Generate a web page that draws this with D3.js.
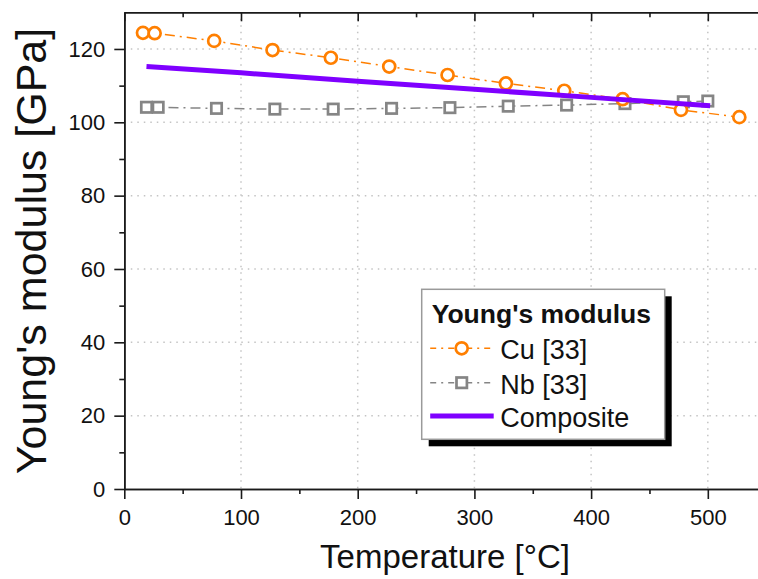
<header>
	<script src="https://d3js.org/d3.v7.min.js"></script>
</header>
<style>
	body {
		margin: 0;
		background: white;
	}
	text {
		font-family: "Liberation Sans", Arial, sans-serif;
		fill: #111;
	}
</style>

<script>

// Young's modulus vs temperature
const cuTemp = [16, 26, 77, 127, 177, 227, 277, 327, 377, 427, 477, 527];
const cuModulus = [124.4, 124.3, 122.2, 119.7, 117.6, 115.2, 112.9, 110.6, 108.6, 106.3, 103.4, 101.4];

const nbTemp = [19, 29, 79, 129, 179, 229, 279, 329, 379, 429, 479, 500];
const nbModulus = [104.1, 104.1, 103.8, 103.6, 103.6, 103.8, 104.0, 104.4, 104.7, 105.1, 105.6, 105.8];

const compTemp = [19, 100, 200, 300, 400, 502];
const compModulus = [115.2, 113.5, 111.2, 109.0, 106.8, 104.5];

const xTicks = [0, 100, 200, 300, 400, 500];
const xMinor = [50, 150, 250, 350, 450];
const yTicks = [0, 20, 40, 60, 80, 100, 120];
const yMinor = [10, 30, 50, 70, 90, 110];

const legendTitle = "Young's modulus";
const legendNames = ["Cu [33]", "Nb [33]", "Composite"];

const width = 758, height = 579;
const cuColor = "#ff7f00", nbColor = "#858585", compColor = "#7f00ff";
const dashDot = "10 5 2 5";

var xScale = d3.scaleLinear().domain([0, 543]).range([124.3, 758]);
var yScale = d3.scaleLinear().domain([0, 130]).range([489, 12.3]);

var svg = d3.select("body")
	.append("svg")
	.attr("width", width)
	.attr("height", height);

svg.append("rect")
	.attr("width", width)
	.attr("height", height)
	.attr("fill", "white");

// dotted grid
var grid = svg.append("g")
	.attr("stroke", "#c4c4c4")
	.attr("stroke-width", 1.5)
	.attr("stroke-dasharray", "1.5 5");

grid.selectAll(".vgrid")
	.data(xTicks.slice(1))
	.enter()
	.append("line")
	.attr("x1", d => xScale(d))
	.attr("x2", d => xScale(d))
	.attr("y1", yScale(130))
	.attr("y2", yScale(0));

grid.selectAll(".hgrid")
	.data(yTicks.slice(1))
	.enter()
	.append("line")
	.attr("x1", xScale(0))
	.attr("x2", width)
	.attr("y1", d => yScale(d))
	.attr("y2", d => yScale(d));

// axes
function styleAxis(g) {
	g.selectAll("path, line")
		.attr("stroke", "#1a1a1a")
		.attr("stroke-width", 1.6);
	g.selectAll("text")
		.style("font-size", "22px")
		.attr("fill", "#111");
}

svg.append("g")
	.attr("transform", "translate(0," + yScale(0) + ")")
	.call(d3.axisBottom(xScale).tickValues(xTicks).tickSize(10).tickSizeOuter(0).tickPadding(10))
	.call(styleAxis);

svg.append("g")
	.attr("transform", "translate(0," + yScale(0) + ")")
	.call(d3.axisBottom(xScale).tickValues(xMinor).tickSize(5).tickSizeOuter(0).tickFormat(""))
	.call(styleAxis);

svg.append("g")
	.attr("transform", "translate(0," + yScale(130) + ")")
	.call(d3.axisTop(xScale).tickValues(xTicks).tickSize(-9).tickSizeOuter(0).tickFormat(""))
	.call(styleAxis);

svg.append("g")
	.attr("transform", "translate(0," + yScale(130) + ")")
	.call(d3.axisTop(xScale).tickValues(xMinor).tickSize(-5).tickSizeOuter(0).tickFormat(""))
	.call(styleAxis);

svg.append("g")
	.attr("transform", "translate(" + xScale(0) + ",0)")
	.call(d3.axisLeft(yScale).tickValues(yTicks).tickSize(10).tickSizeOuter(0).tickPadding(9))
	.call(styleAxis);

svg.append("g")
	.attr("transform", "translate(" + xScale(0) + ",0)")
	.call(d3.axisLeft(yScale).tickValues(yMinor).tickSize(5).tickSizeOuter(0).tickFormat(""))
	.call(styleAxis);

// axis titles
svg.append("text")
	.attr("x", 445)
	.attr("y", 568)
	.attr("text-anchor", "middle")
	.style("font-size", "33px")
	.text("Temperature [\u00B0C]");

svg.append("text")
	.attr("transform", "translate(46,251) rotate(-90)")
	.attr("text-anchor", "middle")
	.style("font-size", "43px")
	.text("Young's modulus [GPa]");

// series
var line = d3.line()
	.x(d => xScale(d[0]))
	.y(d => yScale(d[1]));

var cuData = cuTemp.map((t, i) => [t, cuModulus[i]]);
var nbData = nbTemp.map((t, i) => [t, nbModulus[i]]);
var compData = compTemp.map((t, i) => [t, compModulus[i]]);

svg.append("path")
	.datum(nbData)
	.attr("d", line)
	.attr("fill", "none")
	.attr("stroke", nbColor)
	.attr("stroke-width", 1.5)
	.attr("stroke-dasharray", dashDot);

svg.selectAll(".nb")
	.data(nbData)
	.enter()
	.append("rect")
	.attr("class", "nb")
	.attr("x", d => xScale(d[0]) - 5.2)
	.attr("y", d => yScale(d[1]) - 5.2)
	.attr("width", 10.4)
	.attr("height", 10.4)
	.attr("fill", "white")
	.attr("stroke", nbColor)
	.attr("stroke-width", 2.7);

svg.append("path")
	.datum(cuData)
	.attr("d", line)
	.attr("fill", "none")
	.attr("stroke", cuColor)
	.attr("stroke-width", 1.5)
	.attr("stroke-dasharray", dashDot);

svg.selectAll(".cu")
	.data(cuData)
	.enter()
	.append("circle")
	.attr("class", "cu")
	.attr("cx", d => xScale(d[0]))
	.attr("cy", d => yScale(d[1]))
	.attr("r", 6)
	.attr("fill", "white")
	.attr("stroke", cuColor)
	.attr("stroke-width", 2.7);

svg.append("path")
	.datum(compData)
	.attr("d", line)
	.attr("fill", "none")
	.attr("stroke", compColor)
	.attr("stroke-width", 5);

// legend
var legend = svg.append("g")
	.attr("transform", "translate(421.7,289.3)");

legend.append("rect")
	.attr("x", 7)
	.attr("y", 7)
	.attr("width", 243)
	.attr("height", 150)
	.attr("fill", "black");

legend.append("rect")
	.attr("width", 243)
	.attr("height", 150)
	.attr("fill", "white")
	.attr("stroke", "#9a9a9a")
	.attr("stroke-width", 1.5);

legend.append("text")
	.attr("x", 10)
	.attr("y", 34)
	.style("font-size", "26.5px")
	.style("font-weight", "bold")
	.text(legendTitle);

var rowY = [59, 93.4, 126.7];
var rowColor = [cuColor, nbColor, compColor];

legend.selectAll(".sample")
	.data(legendNames)
	.enter()
	.append("line")
	.attr("x1", 8.5)
	.attr("x2", 72)
	.attr("y1", (d, i) => rowY[i])
	.attr("y2", (d, i) => rowY[i])
	.attr("stroke", (d, i) => rowColor[i])
	.attr("stroke-width", (d, i) => i == 2 ? 5 : 1.5)
	.attr("stroke-dasharray", (d, i) => i == 2 ? null : "6 5 2 5");

legend.append("circle")
	.attr("cx", 40)
	.attr("cy", rowY[0])
	.attr("r", 6)
	.attr("fill", "white")
	.attr("stroke", cuColor)
	.attr("stroke-width", 2.7);

legend.append("rect")
	.attr("x", 40 - 5.2)
	.attr("y", rowY[1] - 5.2)
	.attr("width", 10.4)
	.attr("height", 10.4)
	.attr("fill", "white")
	.attr("stroke", nbColor)
	.attr("stroke-width", 2.7);

legend.selectAll(".label")
	.data(legendNames)
	.enter()
	.append("text")
	.attr("x", 78.5)
	.attr("y", (d, i) => rowY[i] + 11)
	.style("font-size", "27px")
	.text(d => d);

</script>
